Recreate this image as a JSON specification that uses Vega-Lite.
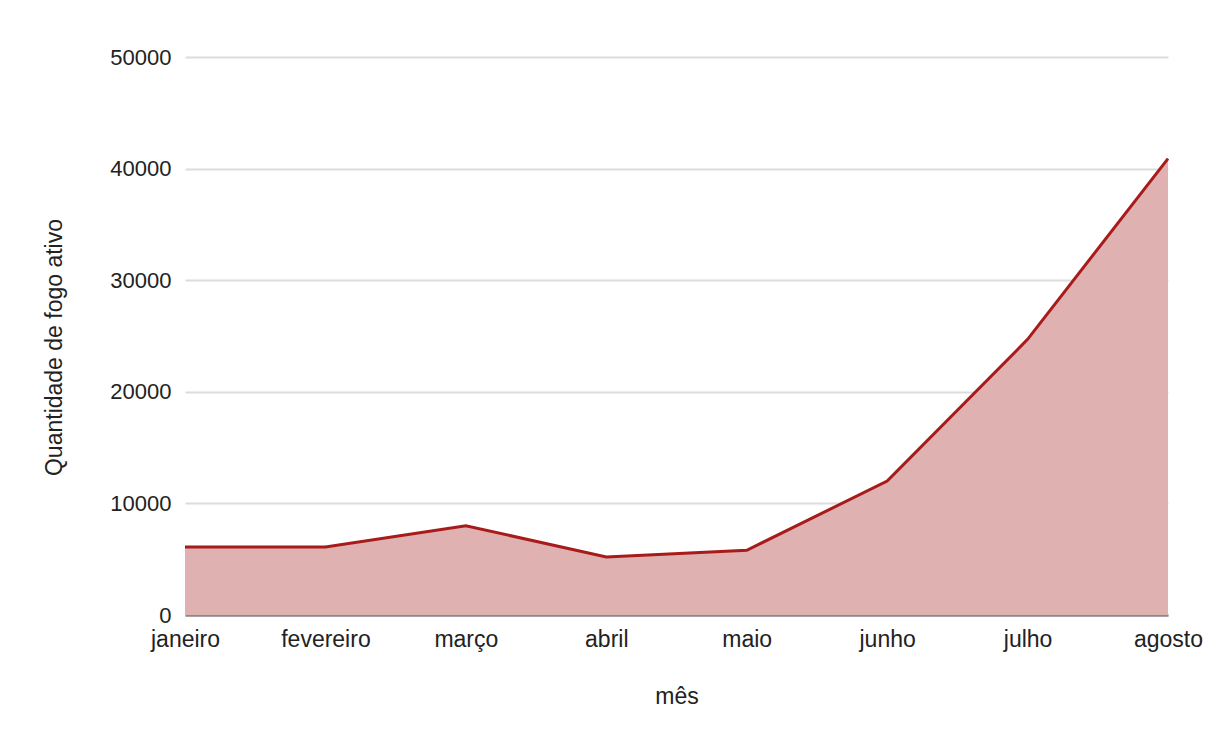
{
  "$schema": "https://vega.github.io/schema/vega-lite/v6.json",
  "width": 983,
  "height": 558,
  "autosize": "none",
  "padding": {"left": 185, "top": 57, "right": 42, "bottom": 132},
  "background": "white",
  "config": {
    "view": {"stroke": null},
    "font": "Liberation Sans",
    "axis": {"labelFont": "Liberation Sans", "titleFont": "Liberation Sans", "labelColor": "#222", "titleColor": "#222", "titleFontWeight": "normal"}
  },
  "data": {
    "values": [
      {"mes": "janeiro", "qtd": 6100},
      {"mes": "fevereiro", "qtd": 6100},
      {"mes": "março", "qtd": 8000},
      {"mes": "abril", "qtd": 5200},
      {"mes": "maio", "qtd": 5800},
      {"mes": "junho", "qtd": 12000},
      {"mes": "julho", "qtd": 24700},
      {"mes": "agosto", "qtd": 40900}
    ]
  },
  "mark": {"type": "area", "color": "#e0b1b1", "opacity": 1, "line": {"color": "#a81b1b", "strokeWidth": 3}},
  "encoding": {
    "x": {
      "field": "mes", "type": "ordinal", "sort": null,
      "scale": {"type": "point", "padding": 0},
      "axis": {"title": "mês", "labelAngle": 0, "labelFontSize": 23, "titleFontSize": 23, "labelPadding": 13, "titlePadding": 34, "ticks": false, "domainColor": "#8a8a8a", "domainWidth": 2.5, "grid": false}
    },
    "y": {
      "field": "qtd", "type": "quantitative",
      "scale": {"domain": [0, 50000], "nice": false},
      "axis": {"title": "Quantidade de fogo ativo", "values": [0, 10000, 20000, 30000, 40000, 50000], "format": "d", "labelFontSize": 22, "titleFontSize": 23, "labelPadding": 14, "titlePadding": 43, "titleY": 290, "ticks": false, "domain": false, "gridColor": "#dcdcdc", "gridWidth": 2}
    }
  }
}
